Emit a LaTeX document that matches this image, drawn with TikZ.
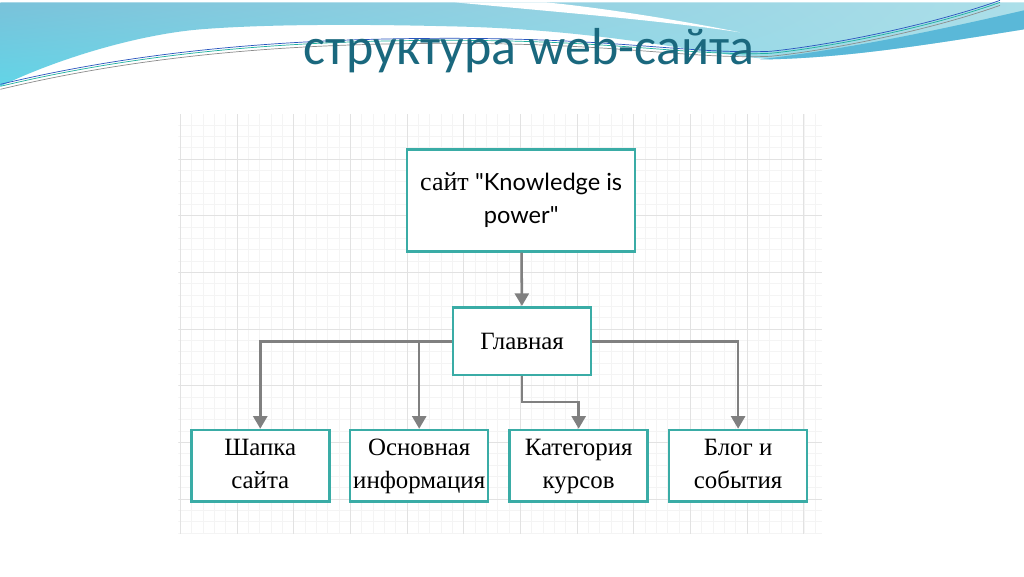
\documentclass[tikz,border=0pt]{standalone}
\usepackage{fontspec}
\setmainfont{Liberation Serif}
\newfontfamily\lato{Lato}
\newfontfamily\carlito{Carlito}
\usetikzlibrary{arrows.meta, shadings}
\definecolor{boxteal}{RGB}{58,172,166}
\definecolor{arrowgray}{RGB}{128,128,128}
\definecolor{titleteal}{RGB}{26,104,126}
\definecolor{skyblue}{RGB}{122,194,218}
\definecolor{paleblue}{RGB}{172,223,233}
\definecolor{cyanblue}{RGB}{96,214,232}
\definecolor{bandblue}{RGB}{90,184,216}
\definecolor{waveteal}{RGB}{30,176,158}
\definecolor{waveblue}{RGB}{40,84,190}
\definecolor{wavegray}{RGB}{140,140,140}
\definecolor{gridmajor}{RGB}{226,226,226}
\definecolor{gridminor}{RGB}{244,244,244}
\tikzset{
  every picture/.style={>={Triangle[width=10pt,length=9pt]}},
  wave/.style={line width=0.5pt}}

\begin{document}
\begin{tikzpicture}[x=0.025cm, y=-0.025cm]
    \tikzstyle{block}=[draw=boxteal, line width=1.8pt, fill=white, inner sep=2pt,
      align=center, font=\fontsize{17.7}{23.4}\selectfont]
    \tikzstyle{link}=[->, draw=arrowgray, line width=1.8pt]

    % slide background and grid
    \fill[white] (0,0) rectangle (1024,574);
    \begin{scope}
      \clip (178,112) rectangle (822,532);
      \foreach \k in {0,...,57}
        \draw[gridminor, line width=0.4pt] ({180+11.34*\k},112) -- ({180+11.34*\k},532);
      \foreach \k in {0,...,38}
        \draw[gridminor, line width=0.4pt] (178,{100+11.34*\k}) -- (822,{100+11.34*\k});
      \foreach \k in {0,...,11}
        \draw[gridmajor, line width=0.6pt] ({180+56.7*\k},112) -- ({180+56.7*\k},532);
      \foreach \k in {0,...,8}
        \draw[gridmajor, line width=0.6pt] (178,{100+56.7*\k}) -- (822,{100+56.7*\k});
    \end{scope}

    % top wave
    \begin{scope}
      \clip (0,0) -- (1024,0) -- (1024,27) .. controls (930,42) and (850,55) .. (770,57)
        .. controls (690,50) and (600,27) .. (450,24) .. controls (330,21) and (250,23) .. (200,27)
        .. controls (140,32) and (60,55) .. (0,84) -- cycle;
      \shade[upper left=skyblue, lower left=cyanblue, upper right=paleblue, lower right=paleblue]
        (0,0) rectangle (1024,90);
    \end{scope}
    \fill[white] (455,0) .. controls (560,10) and (660,18) .. (740,30)
      .. controls (660,14) and (580,3) .. (545,0) -- cycle;
    \fill[bandblue] (760,57) .. controls (860,45) and (950,25) .. (1024,8)
      -- (1024,27) .. controls (930,42) and (850,55) .. (770,57) -- cycle;
    \foreach \c/\d in {wavegray/3, waveteal/0, waveblue/-2}
      \draw[wave, \c] (0,{84+\d}) .. controls (150,{48+\d}) and (300,{38+\d}) .. (450,{38+\d})
        .. controls (620,{38+\d}) and (690,{54+\d}) .. (770,{51+\d})
        .. controls (830,{45+\d}) and (930,{25+\d}) .. (1000,{0+\d});

    \node[anchor=base, text=titleteal, font=\carlito\fontsize{37}{44}\selectfont]
      (title) at (529,62) {структура web-сайта};

    % boxes
    \node[block, minimum width=5.7cm, minimum height=2.55cm] (site) at (521,198)
      {{\fontsize{18.5}{23.4}\selectfont сайт} {\lato\fontsize{16.8}{23.4}\selectfont "Knowledge is}\strut\\
       {\lato\fontsize{16.8}{23.4}\selectfont power"}\strut};
    \node[block, minimum width=3.45cm, minimum height=1.7cm] (main) at (522,339) {Главная};

    \begin{scope}[every node/.style={block, minimum width=3.45cm, minimum height=1.675cm}]
      \node (head) at (260,463.5)   {Шапка\strut\\сайта\strut};
      \node (info) at (419,463.5)   {Основная\strut\\информация\strut};
      \node (cats) at (578.5,463.5) {Категория\strut\\курсов\strut};
      \node (blog) at (738,463.5)   {Блог и\strut\\события\strut};
    \end{scope}

    \coordinate (split) at (main.south |- 0,400);

    \begin{scope}
      \draw[link] (site) -- (main);
      \draw[link] (main.west) -| (head);
      \draw[link] (main.west) -| (info);
      \draw[link] (main.east) -| (blog);
      \draw[link] (main.south) -- (split) -| (cats);
    \end{scope}
\end{tikzpicture}
\end{document}
